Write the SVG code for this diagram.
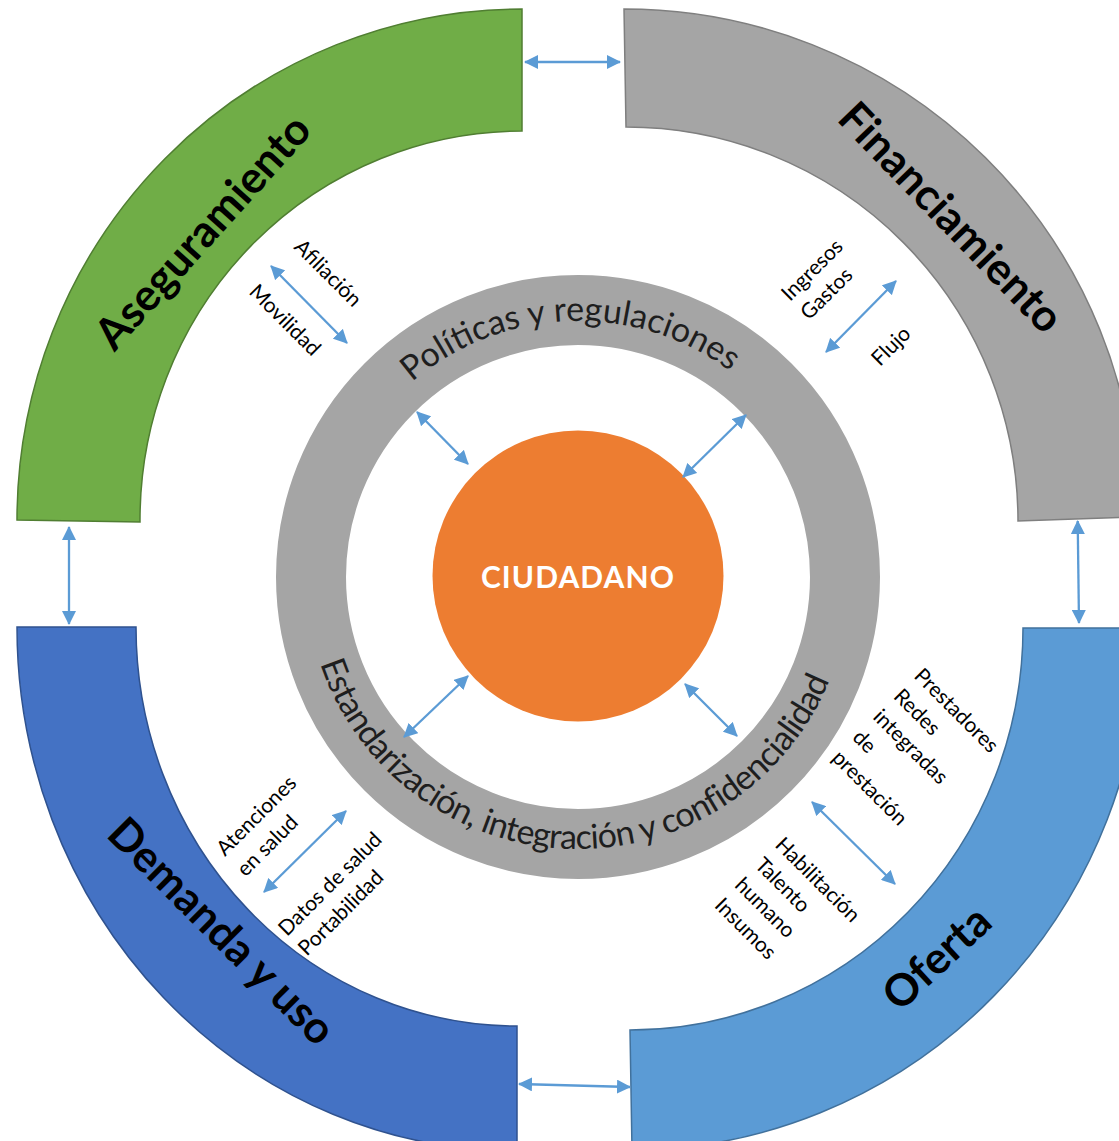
<svg xmlns="http://www.w3.org/2000/svg" width="1119" height="1141" viewBox="0 0 1119 1141">
  <style>
    .band-label { font-family: Lato, "Open Sans", sans-serif; font-weight: 700; font-size: 44px; fill: #000; }
    .lbl { font-family: Lato, "Open Sans", sans-serif; font-size: 21px; fill: #000; }
    .ring-txt { font-family: Lato, "Open Sans", sans-serif; font-size: 34px; fill: #1e1e1e; }
    .conn { stroke: #5b9bd5; stroke-width: 2.3; fill: none; marker-start: url(#ah); marker-end: url(#ah); }
  </style>
  <defs>
    <marker id="ah" viewBox="0 0 14 14" refX="13" refY="7" markerWidth="14" markerHeight="14" markerUnits="userSpaceOnUse" orient="auto-start-reverse">
      <path d="M0,0 L14,7 L0,14 Z" fill="#5b9bd5"/>
    </marker>
    <path id="topArc" d="M322,577 A256,256 0 0 1 834,577"/>
    <path id="botArc" d="M306,577 A272,272 0 0 0 850,577"/>
  </defs>
  <rect width="1119" height="1141" fill="#ffffff"/>

  <!-- Small descriptor labels -->
  <g id="labels">
    <text class="lbl" transform="translate(293,248) rotate(45)">Afiliación</text>
    <text class="lbl" transform="translate(248,293) rotate(45)">Movilidad</text>
    <text class="lbl" transform="translate(790,302) rotate(-45)">Ingresos<tspan x="0" dy="27">Gastos</tspan></text>
    <text class="lbl" transform="translate(880,367) rotate(-45)">Flujo</text>
    <text class="lbl" transform="translate(225,857) rotate(-45)">Atenciones<tspan x="0" dy="29">en salud</tspan></text>
    <text class="lbl" transform="translate(287,937) rotate(-45)">Datos de salud<tspan x="0" dy="28">Portabilidad</tspan></text>
    <text class="lbl" transform="translate(913,677) rotate(45)">Prestadores<tspan x="0" dy="29">Redes</tspan><tspan x="0" dy="29">integradas</tspan><tspan x="0" dy="29">de</tspan><tspan x="0" dy="29">prestación</tspan></text>
    <text class="lbl" transform="translate(774,846) rotate(45)">Habilitación<tspan x="0" dy="28.5">Talento</tspan><tspan x="0" dy="28.5">humano</tspan><tspan x="0" dy="28.5">Insumos</tspan></text>
  </g>

  <g id="aseguramiento">
    <path d="M17,520 A505,511 0 0 1 522,9 L522,131 A382,389 0 0 0 140,522 Z" fill="#70ad47" stroke="#507e32" stroke-width="1.5"/>
    <text class="band-label" text-anchor="middle" transform="translate(214,242) rotate(-48)">Aseguramiento</text>
  </g>

  <g id="financiamiento">
    <path d="M624,9 A513,512 0 0 1 1137,517 L1018,521 A392,394 0 0 0 626,127 Z" fill="#a5a5a5" stroke="#7f7f7f" stroke-width="1.5"/>
    <text class="band-label" text-anchor="middle" transform="translate(940,228) rotate(46)">Financiamiento</text>
  </g>

  <g id="demanda">
    <path d="M17,627 L136,627 A381,399 0 0 0 517,1026 L517,1151 A500,524 0 0 1 17,627 Z" fill="#4472c4" stroke="#2f528f" stroke-width="1.5"/>
    <text class="band-label" text-anchor="middle" transform="translate(211,942) rotate(45)">Demanda y uso</text>
  </g>

  <g id="oferta">
    <path d="M1023,628 L1143,628 A513,522 0 0 1 632,1150 L630,1030 A393,402 0 0 0 1023,628 Z" fill="#5b9bd5" stroke="#41719c" stroke-width="1.5"/>
    <text class="band-label" text-anchor="middle" transform="translate(947,969) rotate(-43)">Oferta</text>
  </g>

  <g id="anillo">
    <circle cx="578" cy="577" r="267" fill="none" stroke="#a5a5a5" stroke-width="70"/>
    <text class="ring-txt"><textPath href="#topArc" startOffset="48.9%" text-anchor="middle">Políticas y regulaciones</textPath></text>
    <text class="ring-txt" letter-spacing="-0.7"><textPath href="#botArc" startOffset="48.9%" text-anchor="middle">Estandarización, integración y confidencialidad</textPath></text>
  </g>

  <g id="ciudadano">
    <circle cx="578" cy="576" r="145.5" fill="#ed7d31"/>
    <text x="578" y="588" text-anchor="middle" font-family="Lato, 'Open Sans', sans-serif" font-weight="700" font-size="30" letter-spacing="1.1" fill="#ffffff">CIUDADANO</text>
  </g>

  <g id="connectors">
    <line class="conn" x1="525" y1="62" x2="620" y2="62"/>
    <line class="conn" x1="1077.7" y1="521" x2="1079" y2="623"/>
    <line class="conn" x1="69" y1="527" x2="69" y2="624"/>
    <line class="conn" x1="519" y1="1084" x2="630" y2="1087"/>
    <line class="conn" x1="417" y1="412" x2="468" y2="464"/>
    <line class="conn" x1="746" y1="415" x2="683" y2="477"/>
    <line class="conn" x1="468" y1="676" x2="404" y2="737"/>
    <line class="conn" x1="685" y1="684" x2="737" y2="736"/>
    <line class="conn" x1="271" y1="266" x2="347" y2="343"/>
    <line class="conn" x1="896" y1="281" x2="826" y2="352"/>
    <line class="conn" x1="346" y1="811" x2="264" y2="892"/>
    <line class="conn" x1="812" y1="802" x2="895" y2="884"/>
  </g>
</svg>
